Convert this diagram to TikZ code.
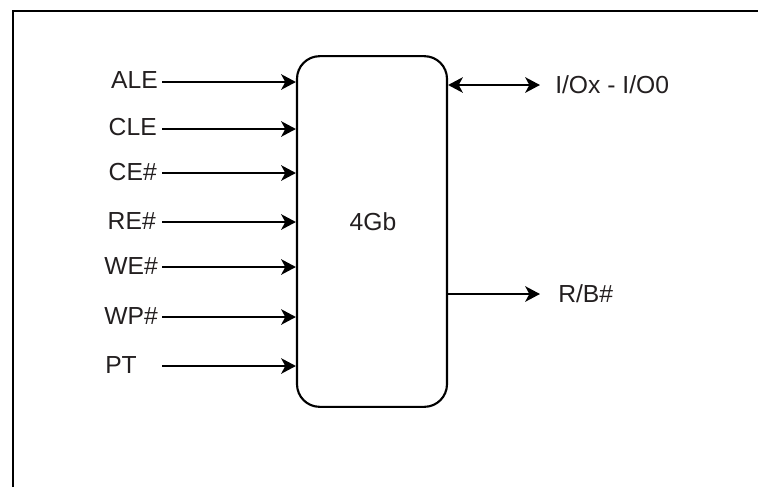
\documentclass[tikz,border=0pt]{standalone}
\usepackage{fontspec}
\setmainfont{Liberation Sans}
\usetikzlibrary{arrows.meta}
\definecolor{txt}{HTML}{231F20}
\tikzset{
  sig/.style={inner sep=0pt,text=txt,font=\fontsize{18.5}{20}\selectfont},
  chip/.style={draw,line width=1.6pt,rounded corners=17pt,minimum width=112.5pt,minimum height=263pt,inner sep=0pt},
  arr/.style={line width=2pt,-{Stealth[length=11pt,width=11.5pt,inset=3pt]}},
  darr/.style={line width=2pt,{Stealth[length=11pt,width=11.5pt,inset=3pt]}-{Stealth[length=11pt,width=11.5pt,inset=3pt]}}
}
\begin{document}
\begin{tikzpicture}[x=0.75pt,y=-0.75pt]
    \useasboundingbox (0,0) rectangle (758,487);
    % frame
    \draw[line width=1.1pt] (13,487) -- (13,11) -- (758,11);
    % memory block
    \node[chip] (mem) at (372,231.5) {};
    \node[sig] (size) at (373,222) {4Gb};
    % inputs
    \node[sig,anchor=east] (ale) at (158,80) {ALE};
    \coordinate (ale-s) at (162,82);
    \draw[arr] (ale-s) -- (mem.west |- ale-s);
    \node[sig,anchor=east] (cle) at (157,127) {CLE};
    \coordinate (cle-s) at (162,129);
    \draw[arr] (cle-s) -- (mem.west |- cle-s);
    \node[sig,anchor=east] (ce) at (157,172) {CE\#};
    \coordinate (ce-s) at (162,173);
    \draw[arr] (ce-s) -- (mem.west |- ce-s);
    \node[sig,anchor=east] (re) at (156,221) {RE\#};
    \coordinate (re-s) at (162,222);
    \draw[arr] (re-s) -- (mem.west |- re-s);
    \node[sig,anchor=east] (we) at (158,266) {WE\#};
    \coordinate (we-s) at (162,267);
    \draw[arr] (we-s) -- (mem.west |- we-s);
    \node[sig,anchor=east] (wp) at (158,316) {WP\#};
    \coordinate (wp-s) at (162,317);
    \draw[arr] (wp-s) -- (mem.west |- wp-s);
    \node[sig,anchor=west] (pt) at (105,365) {PT};
    \coordinate (pt-s) at (162,366);
    \draw[arr] (pt-s) -- (mem.west |- pt-s);
    % outputs
    \node[sig,anchor=west] (io) at (555,85) {I/Ox - I/O0};
    \coordinate (io-e) at (540,85);
    \draw[darr] (mem.east |- io-e) -- (io-e);
    \node[sig,anchor=west] (rb) at (558,294) {R/B\#};
    \coordinate (rb-e) at (540,294);
    \draw[arr] (mem.east |- rb-e) -- (rb-e);
\end{tikzpicture}
\end{document}
